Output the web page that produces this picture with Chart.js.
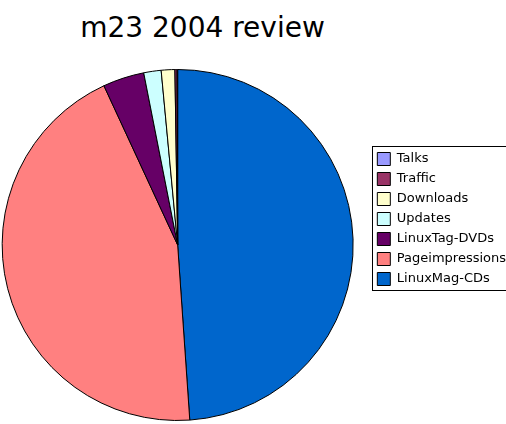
<html>
  <head>
    <title>m23 2004 review</title>
    <style>
      body {
        margin: 0;
        padding: 0;
        background: #fff;
        overflow: hidden;
      }
      #wrap {
        position: relative;
        width: 506px;
        height: 424px;
        overflow: hidden;
      }
      #title {
        position: absolute;
        left: 0;
        top: 14px;
        width: 405px;
        text-align: center;
        font-family: 'DejaVu Sans';
        font-size: 28px;
        line-height: 28px;
        color: #000;
      }
      /* canvas is shifted left so the pie sits where it does in the original */
      canvas#canvas {
        position: absolute;
        left: -15px;
        top: 0;
      }
    </style>
    <script src="https://cdn.jsdelivr.net/npm/chart.js@4.4.1/dist/chart.umd.min.js"></script>
  </head>
  <body>
    <div id="wrap">
      <div id="title">m23 2004 review</div>
      <canvas id="canvas" width="521" height="424"></canvas>
    </div>
    <script>
      // legend order (top to bottom)
      const labels = ['Talks', 'Traffic', 'Downloads', 'Updates', 'LinuxTag-DVDs', 'Pageimpressions', 'LinuxMag-CDs'];
      const values = [0.05, 0.2, 1.25, 1.6, 3.8, 44.2, 48.9];
      const colors = ['#9999ff', '#993366', '#ffffcc', '#ccffff', '#660066', '#ff8080', '#0066cc'];

      // the pie runs clockwise from the top starting with the last legend entry
      const pieLabels = labels.slice().reverse();
      const pieValues = values.slice().reverse();
      const pieColors = colors.slice().reverse();

      // frame around the legend
      const legendFrame = {
        id: 'legendFrame',
        afterDraw(chart) {
          const boxes = chart.legend.legendHitBoxes;
          if (!boxes || !boxes.length) return;
          let l = Infinity, t = Infinity, r = -Infinity, b = -Infinity;
          boxes.forEach((h) => {
            l = Math.min(l, h.left);
            t = Math.min(t, h.top);
            r = Math.max(r, h.left + h.width);
            b = Math.max(b, h.top + h.height);
          });
          const ctx = chart.ctx;
          ctx.save();
          ctx.strokeStyle = '#000';
          ctx.lineWidth = 1;
          ctx.strokeRect(Math.round(l - 5) + 0.5, Math.round(t - 7) + 0.5, Math.round(r - l + 9), Math.round(b - t + 11));
          ctx.restore();
        },
      };

      new Chart(document.getElementById('canvas'), {
        type: 'pie',
        data: {
          labels: pieLabels,
          datasets: [
            {
              data: pieValues,
              backgroundColor: pieColors,
              borderColor: '#000',
              borderWidth: 1,
            },
          ],
        },
        options: {
          responsive: false,
          animation: false,
          events: [],
          layout: {
            padding: { top: 69, bottom: 3, left: 0, right: -10 },
          },
          plugins: {
            tooltip: { enabled: false },
            title: { display: false },
            legend: {
              position: 'right',
              align: 'start',
              reverse: true,
              title: {
                display: true,
                text: ' ',
                font: { size: 10 },
                padding: { top: 0, bottom: 64.5 },
              },
              labels: {
                boxWidth: 13,
                boxHeight: 13,
                padding: 7,
                color: '#000',
                font: { family: 'DejaVu Sans', size: 13 },
              },
            },
          },
        },
        plugins: [legendFrame],
      });
    </script>
  </body>
</html>
